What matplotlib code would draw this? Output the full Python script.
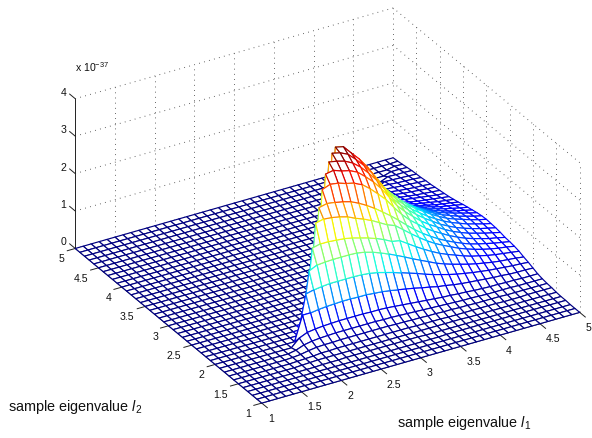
import numpy as np
import matplotlib
matplotlib.use('Agg')
import matplotlib.pyplot as plt
from mpl_toolkits.mplot3d import proj3d
from mpl_toolkits.mplot3d.art3d import Poly3DCollection

plt.rcParams['font.family'] = ['Liberation Sans', 'DejaVu Sans']
plt.rcParams['mathtext.fontset'] = 'custom'
plt.rcParams['mathtext.rm'] = 'Liberation Sans'
plt.rcParams['mathtext.it'] = 'Liberation Sans:italic'

l1_values = [1 + 0.1 * i for i in range(41)]
l2_values = [1 + 0.1 * i for i in range(41)]
x_ticks = [1, 1.5, 2, 2.5, 3, 3.5, 4, 4.5, 5]
y_ticks = [1, 1.5, 2, 2.5, 3, 3.5, 4, 4.5, 5]
z_ticks = [0, 1, 2, 3, 4]

# heights in units of 1e-39, one row per l2 (1.0 to 5.0), right aligned to l1 = 5
z_rows = [
    [],
    [],
    [],
    [1, 1, 1, 1, 1, 1, 1, 1, 1, 1, 1, 1, 1, 1, 1, 1],
    [1, 1, 1, 2, 2, 2, 2, 2, 2, 2, 2, 2, 2, 1, 1, 1, 1, 1, 1, 1, 1, 1, 1, 1, 1, 1, 1, 1, 1, 1, 1],
    [1, 2, 3, 3, 3, 3, 3, 3, 3, 3, 3, 3, 3, 3, 3, 3, 3, 3, 3, 3, 3, 2, 2, 2, 2, 2, 2, 2, 2, 2, 2, 2, 2],
    [1, 2, 3, 5, 5, 6, 6, 6, 6, 6, 6, 6, 6, 6, 6, 5, 5, 5, 5, 4, 4, 4, 4, 4, 4, 4, 3, 3, 3, 4, 4, 4, 4],
    [1, 3, 7, 10, 11, 11, 12, 12, 12, 12, 12, 12, 12, 11, 11, 10, 10, 9, 9, 8, 8, 7, 7, 6, 6, 6, 6, 5, 5, 5, 5, 5, 5],
    [4, 12, 16, 18, 19, 20, 20, 20, 20, 20, 20, 19, 19, 18, 17, 16, 15, 14, 13, 12, 11, 10, 10, 9, 8, 8, 8, 8, 7, 7, 7, 7],
    [20, 29, 32, 34, 35, 36, 36, 36, 36, 35, 35, 34, 32, 30, 28, 26, 24, 22, 20, 19, 17, 16, 14, 13, 12, 12, 11, 11, 10, 10, 10],
    [65, 65, 68, 70, 71, 72, 72, 71, 71, 69, 67, 64, 60, 56, 52, 47, 43, 38, 35, 31, 28, 26, 24, 22, 20, 19, 17, 16, 16, 15],
    [105, 110, 113, 115, 115, 115, 115, 114, 112, 108, 102, 96, 89, 82, 75, 67, 60, 54, 48, 43, 39, 35, 32, 29, 27, 25, 23, 22, 20],
    [150, 160, 162, 163, 163, 163, 162, 158, 152, 144, 135, 125, 115, 104, 94, 84, 74, 66, 59, 53, 47, 42, 38, 34, 31, 29, 27, 24],
    [195, 200, 200, 198, 196, 192, 186, 180, 172, 163, 152, 148, 134, 120, 107, 95, 84, 75, 67, 59, 52, 47, 42, 38, 35, 32, 29],
    [245, 250, 248, 244, 238, 228, 220, 210, 198, 186, 178, 161, 144, 128, 113, 100, 89, 79, 69, 61, 54, 48, 43, 39, 36, 32],
    [270, 275, 272, 268, 262, 252, 240, 226, 210, 194, 176, 157, 139, 123, 109, 96, 85, 75, 66, 58, 52, 47, 42, 38, 34],
    [302, 310, 307, 300, 295, 285, 268, 248, 227, 200, 175, 154, 137, 120, 106, 94, 82, 72, 63, 56, 50, 44, 40, 35],
    [327, 331, 323, 318, 308, 290, 270, 246, 217, 188, 166, 147, 129, 114, 101, 88, 77, 68, 60, 54, 48, 43, 38],
    [343, 339, 333, 322, 305, 283, 258, 228, 197, 174, 154, 136, 120, 106, 92, 81, 71, 63, 56, 50, 45, 40],
    [350, 345, 335, 315, 293, 267, 236, 204, 180, 159, 140, 124, 109, 96, 84, 74, 66, 58, 52, 46, 41],
    [350, 345, 322, 300, 273, 241, 208, 184, 163, 143, 126, 112, 98, 86, 75, 67, 60, 53, 47, 42],
    [325, 315, 293, 267, 236, 204, 180, 159, 140, 124, 109, 96, 84, 74, 66, 58, 52, 46, 41],
    [285, 280, 255, 226, 195, 172, 152, 134, 118, 104, 91, 80, 70, 63, 56, 50, 44, 39],
    [243, 235, 208, 179, 158, 140, 123, 109, 96, 84, 74, 65, 58, 51, 46, 41, 36],
    [192, 183, 164, 145, 128, 112, 99, 88, 77, 67, 59, 53, 47, 42, 37, 33],
    [157, 148, 131, 116, 102, 90, 79, 69, 61, 53, 48, 42, 38, 34, 30],
    [123, 115, 102, 89, 79, 70, 61, 53, 47, 42, 37, 33, 30, 26],
    [96, 89, 79, 69, 61, 54, 47, 41, 37, 33, 29, 26, 23],
    [75, 69, 61, 54, 47, 41, 36, 32, 29, 26, 23, 20],
    [59, 54, 48, 42, 37, 32, 29, 26, 23, 20, 18],
    [45, 42, 37, 32, 28, 25, 22, 20, 18, 16],
    [35, 33, 29, 25, 22, 20, 18, 16, 14],
    [27, 25, 22, 19, 17, 15, 14, 12],
    [21, 19, 17, 15, 14, 12, 11],
    [16, 15, 13, 12, 11, 9],
    [12, 11, 10, 9, 8],
    [9, 8, 8, 7],
    [6, 6, 5],
    [4, 3],
    [1],
    [],
]

X, Y = np.meshgrid(l1_values, l2_values)
Z = np.zeros_like(X)
for i, row in enumerate(z_rows):
    if row:
        Z[i, 41 - len(row):] = np.array(row) / 100.0

W, H = 592, 438
fig = plt.figure(figsize=(W / 100, H / 100), dpi=100)
L = 700
ax = fig.add_axes([-32 / W, -127 / H, L / W, L / H], projection='3d', proj_type='ortho')
ax.view_init(elev=29.1, azim=-120.4)
ax.set_box_aspect((1, 1, 0.465), zoom=0.761)
ax.set_axis_off()
ax.computed_zorder = False

# mesh, white faces hide what is behind them
polys = []
levels = []
for i in range(40):
    for j in range(40):
        polys.append([(X[i, j], Y[i, j], Z[i, j]), (X[i, j + 1], Y[i, j + 1], Z[i, j + 1]),
                      (X[i + 1, j + 1], Y[i + 1, j + 1], Z[i + 1, j + 1]), (X[i + 1, j], Y[i + 1, j], Z[i + 1, j])])
        levels.append((Z[i, j] + Z[i, j + 1] + Z[i + 1, j] + Z[i + 1, j + 1]) / 4)
colors = plt.cm.jet(np.array(levels) / max(levels))
mesh = Poly3DCollection(polys, facecolors='white', edgecolors=colors, linewidths=0.85, zorder=3)
ax.add_collection3d(mesh)

ax.set_xlim(1, 5)
ax.set_ylim(1, 5)
ax.set_zlim(0, 4)

dots = dict(color='#444444', lw=0.7, dashes=(0.8, 4.5), zorder=1)
for x in x_ticks[1:]:
    ax.plot([x, x], [5, 5], [0, 4], **dots)
for y in y_ticks[:-1]:
    ax.plot([5, 5], [y, y], [0, 4], **dots)
for z in z_ticks:
    ax.plot([1, 5], [5, 5], [z, z], **dots)
    ax.plot([5, 5], [1, 5], [z, z], **dots)

solid = dict(color='#222222', lw=0.7, zorder=2)
ax.plot([1, 1], [5, 5], [0, 4], **solid)
ax.plot([1, 5], [1, 1], [0, 0], **solid)
ax.plot([1, 1], [1, 5], [0, 0], **solid)


def label(x, y, z, text, dx, dy, ha):
    xs, ys, _ = proj3d.proj_transform(x, y, z, ax.get_proj())
    ax.annotate(text, xy=(xs, ys), xycoords='data', xytext=(dx, dy), textcoords='offset pixels',
                ha=ha, va='center', fontsize=7.6, color='#111111')


for x in x_ticks:
    ax.plot([x, x], [1, 0.88], [0, 0], **solid)
    label(x, 1, 0, f'{x:g}', 6, -15.5, 'left')
for y in y_ticks:
    ax.plot([1, 0.9], [y, y], [0, 0], **solid)
    label(1, y, 0, f'{y:g}', -10.5, -11, 'right')
for z in z_ticks:
    ax.plot([1, 1], [5, 5.12], [z, z], **solid)
    label(1, 5, z, f'{z:g}', -9, 6, 'right')

fig.text(75 / W, 1 - 72 / H, r'x 10$^{-37}$', fontsize=7.6, color='#111111', va='baseline')
fig.text(8 / W, 1 - 411 / H, r'sample eigenvalue $\mathit{l}_{2}$', fontsize=10.4, color='#111111', va='baseline')
fig.text(397 / W, 1 - 427 / H, r'sample eigenvalue $\mathit{l}_{1}$', fontsize=10.4, color='#111111', va='baseline')

fig.savefig('out.png', dpi=100)
